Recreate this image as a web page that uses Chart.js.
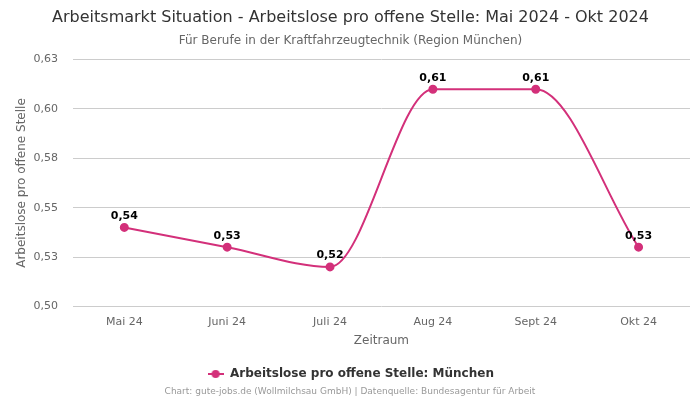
<!DOCTYPE html>
<html><head><meta charset="utf-8">
<script src="https://cdn.jsdelivr.net/npm/chart.js@4/dist/chart.umd.min.js"></script>
<style>html,body{margin:0;padding:0;background:#fff}#wrap{width:700px;height:400px}</style>
</head><body><div id="wrap"><canvas id="c" width="700" height="400"></canvas></div>
<script>
const categories = ["Mai 24", "Juni 24", "Juli 24", "Aug 24", "Sept 24", "Okt 24"];
const values = [0.54, 0.53, 0.52, 0.61, 0.61, 0.53];
const seriesName = "Arbeitslose pro offene Stelle: München";
const titleText = "Arbeitsmarkt Situation - Arbeitslose pro offene Stelle: Mai 2024 - Okt 2024";
const subtitleText = "Für Berufe in der Kraftfahrzeugtechnik (Region München)";
const footerText = "Chart: gute-jobs.de (Wollmilchsau GmbH) | Datenquelle: Bundesagentur für Arbeit";
const yAxisTitle = "Arbeitslose pro offene Stelle";
const xAxisTitle = "Zeitraum";

const color = "#d3307a";
const fmt = v => (Math.round(v * 100 + 1e-6) / 100).toFixed(2).replace(".", ",");

const legendIcon = document.createElement("canvas");
legendIcon.width = 16; legendIcon.height = 10;
(function(){const g=legendIcon.getContext("2d");g.strokeStyle=color;g.lineWidth=2;g.beginPath();g.moveTo(0,5);g.lineTo(16,5);g.stroke();g.fillStyle=color;g.beginPath();g.arc(8,5,4,0,Math.PI*2);g.fill();})();

const labelPlugin = {
  id: "labels",
  afterDatasetsDraw(chart) {
    const ctx = chart.ctx;
    const meta = chart.getDatasetMeta(0);
    ctx.save();
    ctx.font = "bold 11px 'DejaVu Sans'";
    ctx.fillStyle = "#000";
    ctx.textAlign = "center";
    ctx.textBaseline = "bottom";
    meta.data.forEach((p, i) => {
      ctx.fillText(fmt(chart.data.datasets[0].data[i]), p.x, p.y - 6);
    });
    ctx.restore();
  }
};
const footerPlugin = {
  id: "footer",
  afterDraw(chart) {
    const ctx = chart.ctx;
    ctx.save();
    ctx.font = "9px 'DejaVu Sans'";
    ctx.fillStyle = "#999";
    ctx.textAlign = "center";
    ctx.textBaseline = "middle";
    ctx.fillText(footerText, chart.width / 2, 392);
    ctx.restore();
  }
};

new Chart(document.getElementById("c"), {
  type: "line",
  data: {
    labels: categories,
    datasets: [{
      label: seriesName,
      data: values,
      borderColor: color,
      backgroundColor: color,
      borderWidth: 2,
      pointRadius: 3.5,
      pointHoverRadius: 3.5,
      cubicInterpolationMode: "monotone",
      fill: false
    }]
  },
  options: {
    responsive: false,
    animation: false,
    layout: { padding: { left: 11, right: 10, top: 0, bottom: 10 } },
    plugins: {
      title: { display: true, text: titleText, color: "#333", font: { family: "DejaVu Sans", size: 16, weight: "normal" }, padding: { top: 8, bottom: 6 } },
      subtitle: { display: true, text: subtitleText, color: "#666", font: { family: "DejaVu Sans", size: 12 }, padding: { bottom: 12 } },
      legend: {
        position: "bottom",
        labels: {
          usePointStyle: true,
          pointStyleWidth: 17,
          padding: 10,
          color: "#333",
          font: { family: "DejaVu Sans", size: 12, weight: "bold" },
          generateLabels: chart => [{ text: seriesName, pointStyle: legendIcon, fontColor: "#333", datasetIndex: 0, lineWidth: 0, strokeStyle: color, fillStyle: color }]
        }
      },
      tooltip: { enabled: false }
    },
    scales: {
      x: {
        offset: true,
        grid: { display: false },
        border: { display: false },
        ticks: { color: "#666", font: { family: "DejaVu Sans", size: 11 }, padding: 1 },
        title: { display: true, text: xAxisTitle, color: "#666", font: { family: "DejaVu Sans", size: 12 }, padding: { top: 4, bottom: 10 } }
      },
      y: {
        min: 0.5, max: 0.625,
        border: { display: false },
        grid: { color: "#ccc", drawTicks: false },
        afterFit: s => { s.width -= 15; },
        ticks: { stepSize: 0.025, color: "#666", font: { family: "DejaVu Sans", size: 11 }, padding: 15, callback: v => fmt(v) },
        title: { display: true, text: yAxisTitle, color: "#666", font: { family: "DejaVu Sans", size: 12 } }
      }
    }
  },
  plugins: [labelPlugin, footerPlugin]
});
</script></body></html>
